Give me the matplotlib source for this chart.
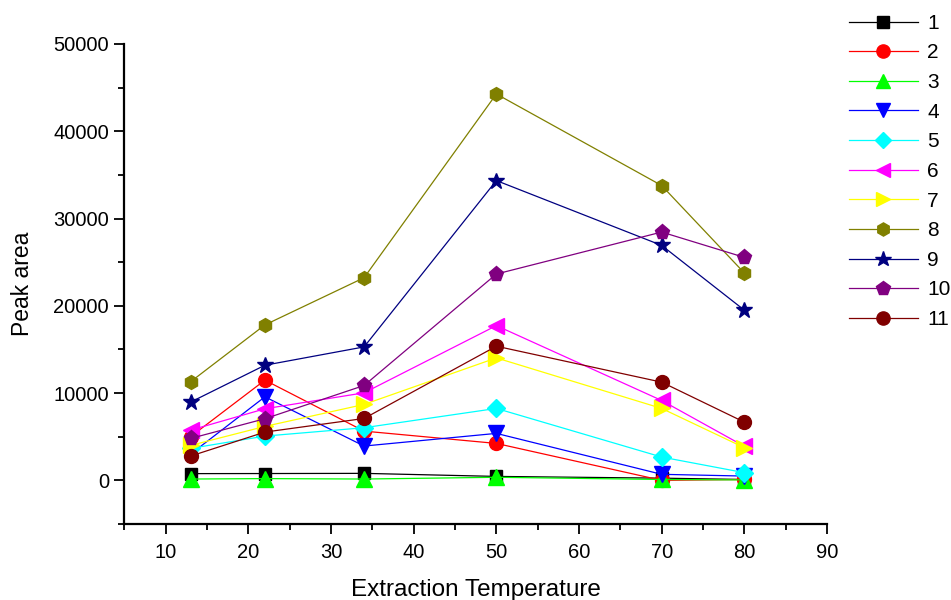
import matplotlib
matplotlib.use("Agg")
import matplotlib.pyplot as plt
from matplotlib.ticker import MultipleLocator

plt.rcParams['font.family'] = ['Liberation Sans', 'DejaVu Sans']

temps = [13, 22, 34, 50, 70, 80]
labels = ["1", "2", "3", "4", "5", "6", "7", "8", "9", "10", "11"]

s1 = [770, 780, 800, 450, 250, 100]
s2 = [5000, 11480, 5640, 4230, 0, 100]
s3 = [150, 200, 150, 350, 100, 50]
s4 = [3000, 9570, 3930, 5380, 690, 490]
s5 = [3660, 5070, 6030, 8240, 2670, 880]
s6 = [5750, 8200, 10030, 17730, 9150, 3900]
s7 = [4000, 6180, 8700, 14030, 8240, 3740]
s8 = [11290, 17810, 23220, 44270, 33780, 23760]
s9 = [8960, 13190, 15290, 34350, 26920, 19500]
s10 = [4800, 7060, 10870, 23640, 28450, 25550]
s11 = [2780, 5530, 7090, 15370, 11250, 6670]

series = [s1, s2, s3, s4, s5, s6, s7, s8, s9, s10, s11]
colors = ["#000000", "#FF0000", "#00FF00", "#0000FF", "#00FFFF", "#FF00FF",
          "#FFFF00", "#808000", "#000080", "#800080", "#800000"]
markers = ["s", "o", "^", "v", "D", "<", ">", "h", "*", "p", "o"]
msizes = [9, 10, 11, 11, 9, 11, 11, 10, 12, 11, 10]

fig = plt.figure(figsize=(9.51, 6.0), dpi=100)
ax = fig.add_axes([0.1308, 0.1267, 0.8696 - 0.1308, 0.9267 - 0.1267])

handles = []
for ys, c, m, ms, lab in zip(series, colors, markers, msizes, labels):
    h, = ax.plot(temps, ys, color=c, marker=m, markersize=ms, linewidth=0.9,
                 markeredgecolor=c, markerfacecolor=c, label=lab)
    handles.append(h)

ax.set_xlim(5, 90)
ax.set_ylim(-5000, 50000)
ax.xaxis.set_minor_locator(MultipleLocator(5))
ax.yaxis.set_minor_locator(MultipleLocator(5000))
ax.set_xticks(list(range(10, 91, 10)))
ax.set_yticks(list(range(0, 50001, 10000)))

for side in ["top", "right"]:
    ax.spines[side].set_visible(False)
for side in ["left", "bottom"]:
    ax.spines[side].set_linewidth(1.6)

ax.tick_params(axis="both", which="major", direction="out", length=7, width=1.3,
               labelsize=14.5, pad=4)
ax.tick_params(axis="x", which="major", pad=7)
ax.tick_params(axis="both", which="minor", direction="out", length=4, width=1.3)

ax.set_xlabel("Extraction Temperature", fontsize=17.5, labelpad=12)
ax.set_ylabel("Peak area", fontsize=16.5, labelpad=14)

fig.legend(handles=handles, labels=labels, loc="upper left",
           bbox_to_anchor=(849 / 951, 0.977), frameon=False, fontsize=15,
           handlelength=3.3, handletextpad=0.45, labelspacing=0.51,
           borderpad=0, borderaxespad=0, markerscale=0.95)

fig.savefig("out.png", dpi=100)
